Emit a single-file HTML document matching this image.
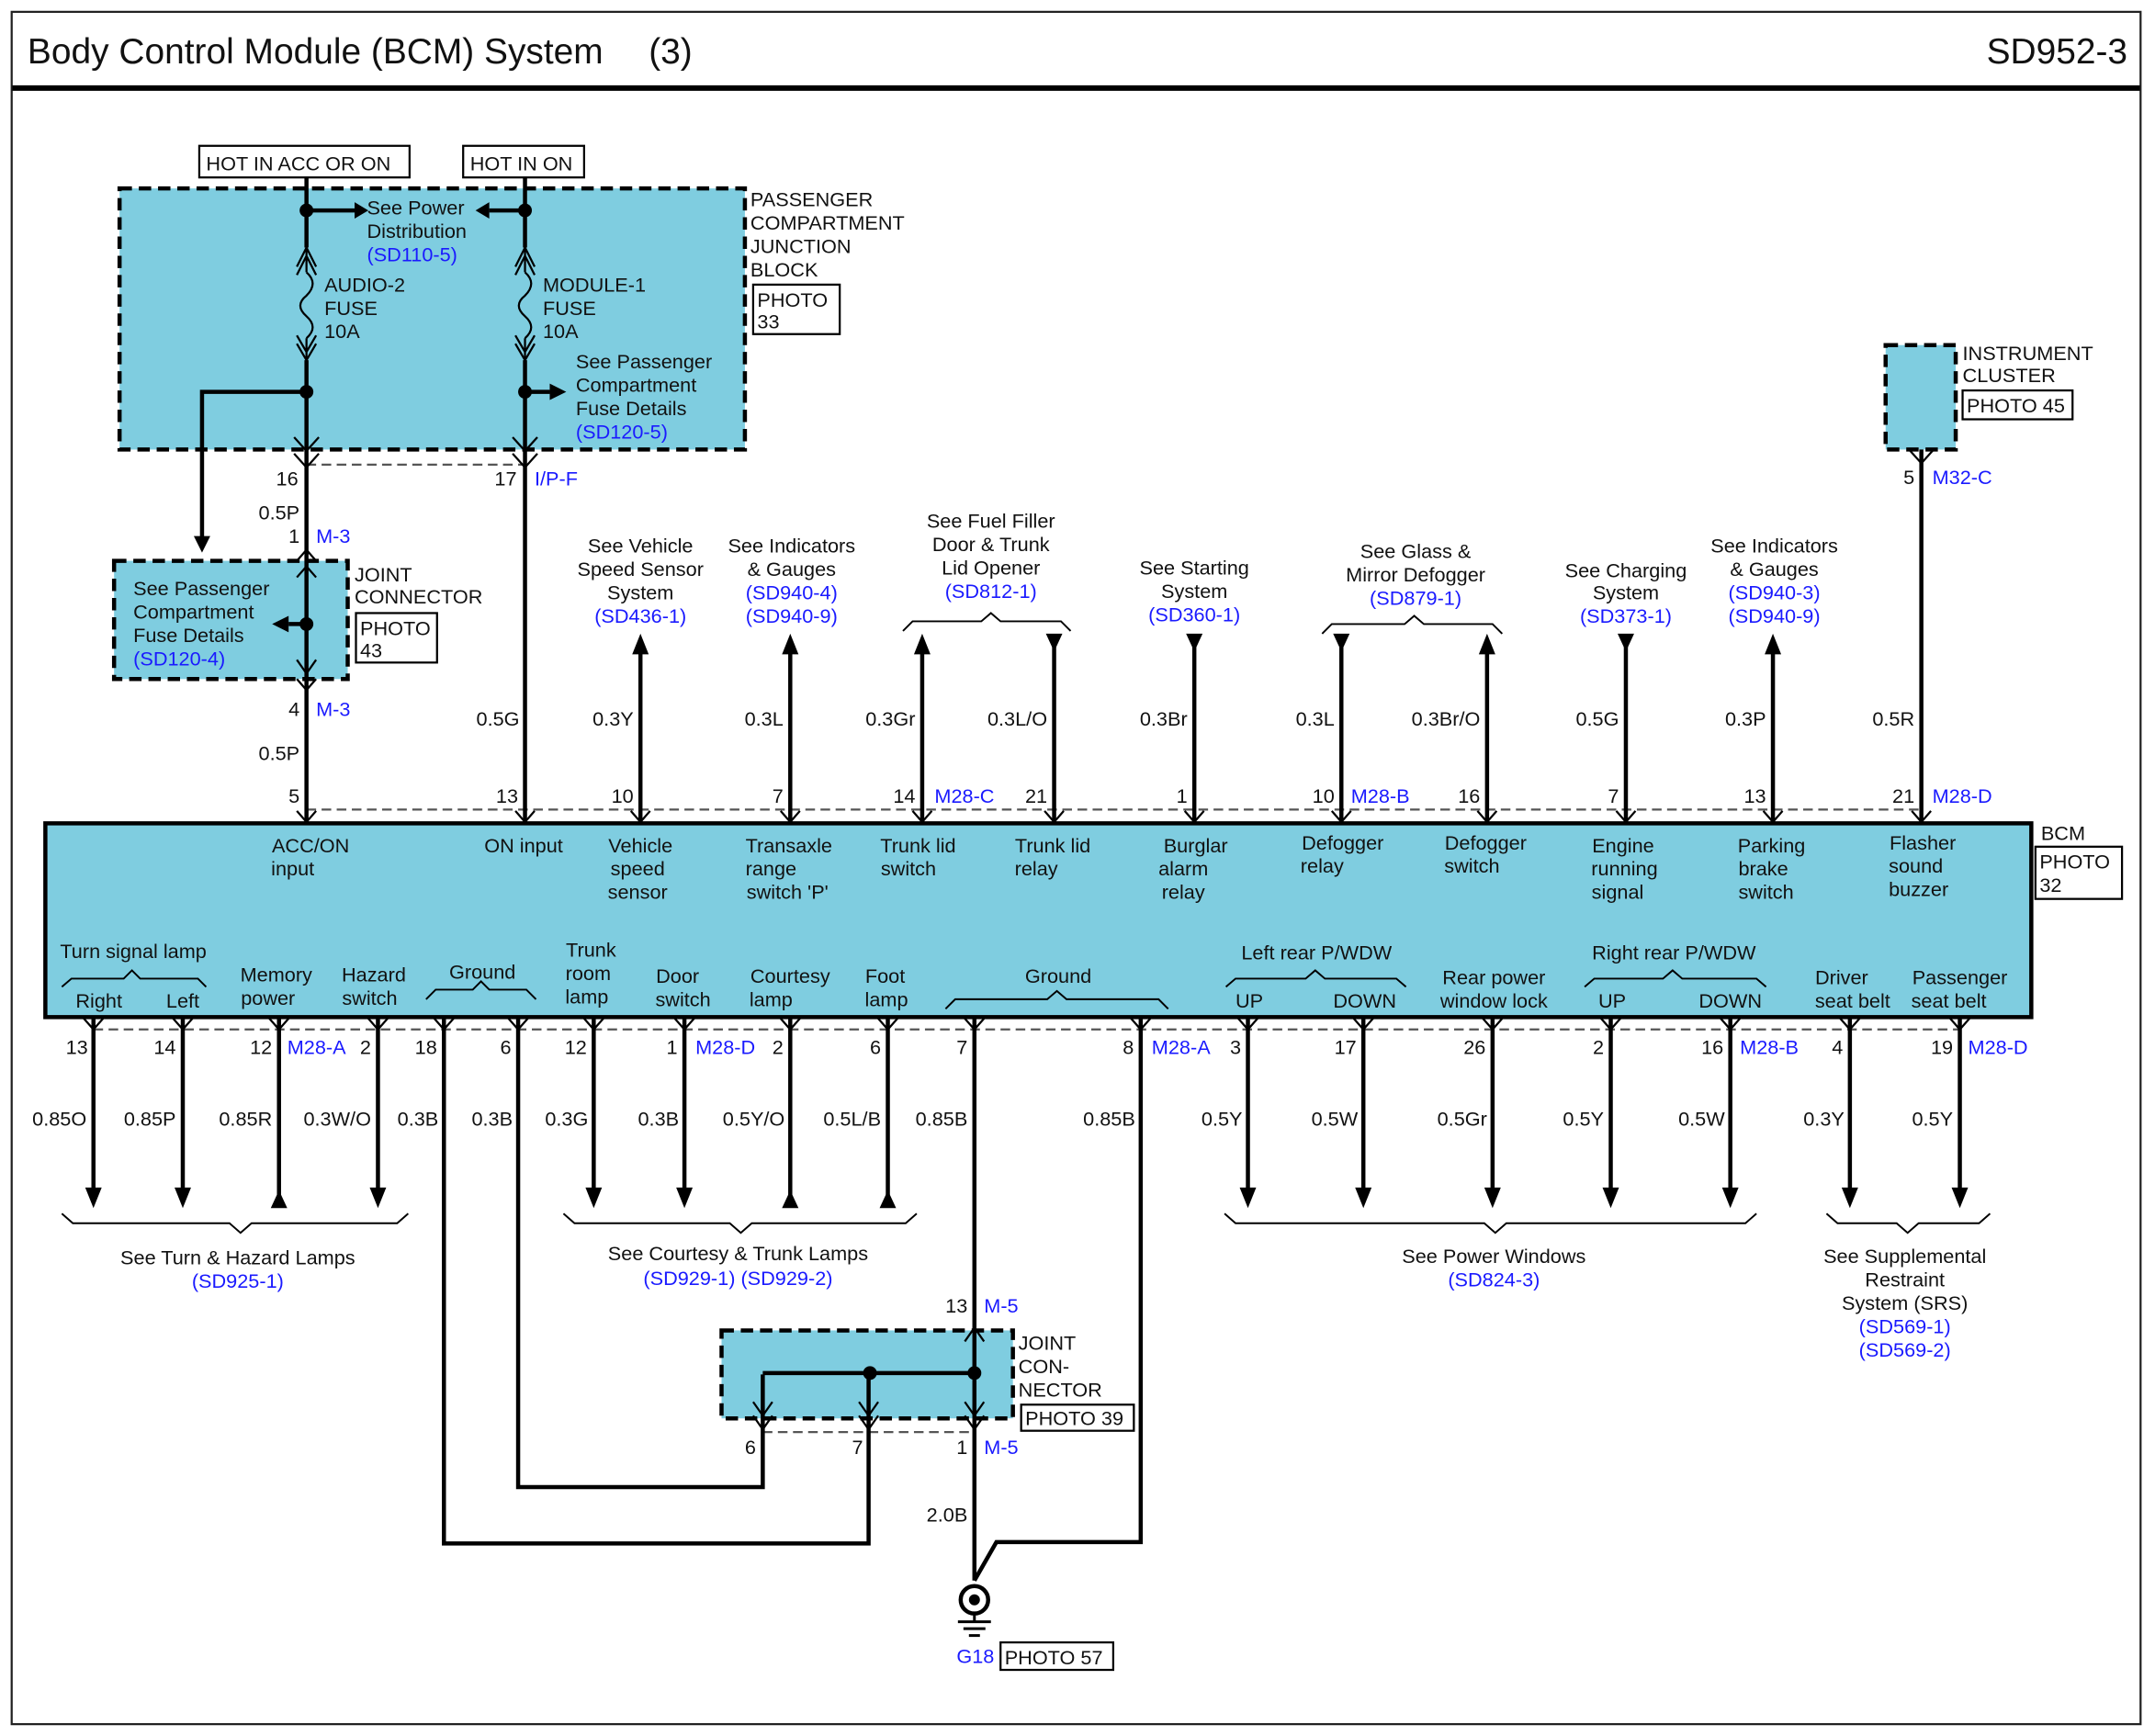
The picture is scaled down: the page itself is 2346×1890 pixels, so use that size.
<!DOCTYPE html>
<html><head><meta charset="utf-8"><style>
html,body{margin:0;padding:0;background:#fff}
svg{display:block}
text{font-family:"Liberation Sans",Arial,sans-serif;font-size:14.5px;fill:#111}
.b{fill:#1a1aff}
.c{text-anchor:middle}
.e{text-anchor:end}
</style></head><body>
<svg width="2346" height="1890" viewBox="0 0 1568 1263" xmlns="http://www.w3.org/2000/svg">
<rect x="0" y="0" width="1568" height="1263" fill="#fff"/>
<rect x="8.5" y="8.5" width="1549" height="1246" fill="none" stroke="#222" stroke-width="1.5"/>
<line x1="9" y1="64" x2="1557" y2="64" stroke="#000" stroke-width="4"/>
<text x="20" y="46" style="font-size:26px">Body Control Module (BCM) System</text>
<text x="472" y="46" style="font-size:26px">(3)</text>
<text x="1548" y="46" class="e" style="font-size:26px">SD952-3</text>

<!-- blue boxes -->
<g fill="#7fcde0" stroke="#000" stroke-width="3" stroke-dasharray="9,5">
<rect x="87" y="137" width="455" height="190"/>
<rect x="83" y="408" width="170" height="86"/>
<rect x="1372" y="251" width="51" height="76"/>
<rect x="525" y="968" width="212" height="64"/>
</g>
<rect x="33" y="599" width="1445" height="141" fill="#7fcde0" stroke="#000" stroke-width="3"/>

<!-- hot boxes -->
<g fill="#fff" stroke="#000" stroke-width="1.5">
<rect x="145" y="106" width="153" height="23"/>
<rect x="337" y="106" width="88" height="23"/>
<rect x="548" y="207" width="63" height="36"/>
<rect x="259" y="446" width="59" height="36"/>
<rect x="1428" y="284" width="80" height="21"/>
<rect x="1481" y="616" width="63" height="38"/>
<rect x="743" y="1022" width="82" height="19"/>
<rect x="728" y="1195" width="82" height="20"/>
</g>
<text x="150" y="124">HOT IN ACC OR ON</text>
<text x="342" y="124">HOT IN ON</text>
<text x="551" y="223">PHOTO</text><text x="551" y="239">33</text>
<text x="262" y="462">PHOTO</text><text x="262" y="478">43</text>
<text x="1431" y="300">PHOTO 45</text>
<text x="1484" y="632">PHOTO</text><text x="1484" y="649">32</text>
<text x="746" y="1037">PHOTO 39</text>
<text x="731" y="1211">PHOTO 57</text>

<!-- dashed connector lines -->
<g stroke="#555" stroke-width="1.5" stroke-dasharray="7,4" fill="none">
<line x1="223" y1="338" x2="382" y2="338"/>
<line x1="223" y1="589" x2="1398" y2="589"/>
<line x1="68" y1="749" x2="1426" y2="749"/>
<line x1="555" y1="1042" x2="709" y2="1042"/>
</g>

<!-- wires -->
<g stroke="#000" stroke-width="3" fill="none">
<line x1="223" y1="129" x2="223" y2="180"/>
<line x1="223" y1="262" x2="223" y2="599"/>
<line x1="382" y1="129" x2="382" y2="180"/>
<line x1="382" y1="262" x2="382" y2="599"/>
<polyline points="223,285 147,285 147,392"/>
<line x1="223" y1="153" x2="258" y2="153"/>
<line x1="382" y1="153" x2="356" y2="153"/>
<line x1="382" y1="285" x2="400" y2="285"/>
<line x1="223" y1="454" x2="210" y2="454"/>
<line x1="1398" y1="327" x2="1398" y2="599"/>
<line x1="466" y1="470" x2="466" y2="599"/>
<line x1="575" y1="470" x2="575" y2="599"/>
<line x1="671" y1="470" x2="671" y2="599"/>
<line x1="767" y1="470" x2="767" y2="599"/>
<line x1="869" y1="470" x2="869" y2="599"/>
<line x1="976" y1="470" x2="976" y2="599"/>
<line x1="1082" y1="470" x2="1082" y2="599"/>
<line x1="1183" y1="470" x2="1183" y2="599"/>
<line x1="1290" y1="470" x2="1290" y2="599"/>
<line x1="68" y1="740" x2="68" y2="866"/>
<line x1="133" y1="740" x2="133" y2="866"/>
<line x1="203" y1="740" x2="203" y2="872"/>
<line x1="275" y1="740" x2="275" y2="866"/>
<polyline points="323,740 323,1123 632,1123 632,1000"/>
<polyline points="377,740 377,1082 555,1082 555,1000"/>
<line x1="432" y1="740" x2="432" y2="866"/>
<line x1="498" y1="740" x2="498" y2="866"/>
<line x1="575" y1="740" x2="575" y2="872"/>
<line x1="646" y1="740" x2="646" y2="872"/>
<line x1="709" y1="740" x2="709" y2="1150"/>
<polyline points="830,740 830,1122 725,1122 709,1150"/>
<line x1="908" y1="740" x2="908" y2="866"/>
<line x1="992" y1="740" x2="992" y2="866"/>
<line x1="1086" y1="740" x2="1086" y2="866"/>
<line x1="1172" y1="740" x2="1172" y2="866"/>
<line x1="1259" y1="740" x2="1259" y2="866"/>
<line x1="1346" y1="740" x2="1346" y2="866"/>
<line x1="1426" y1="740" x2="1426" y2="866"/>
<line x1="555" y1="999" x2="709" y2="999"/>
</g>
<!-- fuses -->
<g stroke="#000" stroke-width="1.5" fill="none">
<path d="M223 180 L223 198 M216 194 L223 180 L230 194 M216 200 L223 186 L230 200 M223 198 Q232 206 223 215 Q214 222 223 230 Q232 238 223 246 M223 246 L223 262 M216 250 L223 262 L230 250 M216 244 L223 256 L230 244"/>
<path d="M382 180 L382 198 M375 194 L382 180 L389 194 M375 200 L382 186 L389 200 M382 198 Q391 206 382 215 Q373 222 382 230 Q391 238 382 246 M382 246 L382 262 M375 250 L382 262 L389 250 M375 244 L382 256 L389 244"/>
<!-- chevrons -->
<path d="M214 318 L223 328 L232 318 M214 330 L223 340 L232 330"/>
<path d="M373 318 L382 328 L391 318 M373 330 L382 340 L391 330"/>
<path d="M216 408 L223 400 L230 408 M216 420 L223 412 L230 420"/>
<path d="M216 480 L223 490 L230 480 M216 494 L223 502 L230 494"/>
<path d="M1389 327 L1398 337 L1407 327"/>
<path d="M548 1030 L555 1040 L562 1030 M548 1020 L555 1030 L562 1020"/>
<path d="M625 1030 L632 1040 L639 1030 M625 1020 L632 1030 L639 1020"/>
<path d="M702 1030 L709 1040 L716 1030 M702 1020 L709 1030 L716 1020"/>
<path d="M702 976 L709 966 L716 976"/>
</g>
<g stroke="#000" stroke-width="1.5" fill="none">
<path d="M216 590 L223 598 L230 590 M375 590 L382 598 L389 590 M459 590 L466 598 L473 590 M568 590 L575 598 L582 590 M664 590 L671 598 L678 590 M760 590 L767 598 L774 590 M862 590 L869 598 L876 590 M969 590 L976 598 L983 590 M1075 590 L1082 598 L1089 590 M1176 590 L1183 598 L1190 590 M1283 590 L1290 598 L1297 590 M1391 590 L1398 598 L1405 590"/>
<path d="M61 741 L68 749 L75 741 M126 741 L133 749 L140 741 M196 741 L203 749 L210 741 M268 741 L275 749 L282 741 M316 741 L323 749 L330 741 M370 741 L377 749 L384 741 M425 741 L432 749 L439 741 M491 741 L498 749 L505 741 M568 741 L575 749 L582 741 M639 741 L646 749 L653 741 M702 741 L709 749 L716 741 M823 741 L830 749 L837 741 M901 741 L908 749 L915 741 M985 741 L992 749 L999 741 M1079 741 L1086 749 L1093 741 M1165 741 L1172 749 L1179 741 M1252 741 L1259 749 L1266 741 M1339 741 L1346 749 L1353 741 M1419 741 L1426 749 L1433 741"/>
</g>
<!-- dots -->
<g fill="#000">
<circle cx="223" cy="153" r="5"/><circle cx="382" cy="153" r="5"/>
<circle cx="223" cy="285" r="5"/><circle cx="382" cy="285" r="5"/>
<circle cx="223" cy="454" r="5"/>
<circle cx="633" cy="999" r="5"/><circle cx="709" cy="999" r="5"/>
<!-- small arrowheads -->
<polygon points="258,147 268,153 258,159"/>
<polygon points="356,147 346,153 356,159"/>
<polygon points="400,279 412,285 400,291"/>
<polygon points="210,448 198,454 210,460"/>
<polygon points="141,390 153,390 147,402"/>
<!-- top arrows up -->
<polygon points="460,476 466,461 472,476"/>
<polygon points="569,476 575,461 581,476"/>
<polygon points="665,476 671,461 677,476"/>
<polygon points="1076,476 1082,461 1088,476"/>
<polygon points="1284,476 1290,461 1296,476"/>
<!-- top triangles down -->
<polygon points="761,461 773,461 767,474"/>
<polygon points="863,461 875,461 869,474"/>
<polygon points="970,461 982,461 976,474"/>
<polygon points="1177,461 1189,461 1183,474"/>
<!-- bottom arrows down -->
<polygon points="62,864 74,864 68,879"/>
<polygon points="127,864 139,864 133,879"/>
<polygon points="269,864 281,864 275,879"/>
<polygon points="426,864 438,864 432,879"/>
<polygon points="492,864 504,864 498,879"/>
<polygon points="902,864 914,864 908,879"/>
<polygon points="986,864 998,864 992,879"/>
<polygon points="1080,864 1092,864 1086,879"/>
<polygon points="1166,864 1178,864 1172,879"/>
<polygon points="1253,864 1265,864 1259,879"/>
<polygon points="1340,864 1352,864 1346,879"/>
<polygon points="1420,864 1432,864 1426,879"/>
<!-- bottom triangles up -->
<polygon points="197,879 209,879 203,866"/>
<polygon points="569,879 581,879 575,866"/>
<polygon points="640,879 652,879 646,866"/>
</g>
<!-- ground -->
<g stroke="#000" fill="none">
<circle cx="709" cy="1164" r="10" stroke-width="3"/>
<line x1="709" y1="1174" x2="709" y2="1180" stroke-width="2"/>
<line x1="697" y1="1180" x2="721" y2="1180" stroke-width="2"/>
<line x1="701" y1="1185" x2="717" y2="1185" stroke-width="2"/>
<line x1="705" y1="1190" x2="713" y2="1190" stroke-width="2"/>
</g>
<circle cx="709" cy="1164" r="4" fill="#000"/>

<!-- braces -->
<g stroke="#000" stroke-width="1.3" fill="none">
<path d="M657 459 L664 452 L714 452 L721 446 L728 452 L772 452 L779 459"/>
<path d="M962 461 L969 454 L1022 454 L1029 448 L1036 454 L1086 454 L1093 461"/>
<path d="M45 883 L53 890 L167 890 L175 897 L183 890 L289 890 L297 883"/>
<path d="M410 883 L418 890 L531 890 L539 897 L547 890 L659 890 L667 883"/>
<path d="M891 883 L899 890 L1080 890 L1088 897 L1096 890 L1270 890 L1278 883"/>
<path d="M1329 883 L1337 890 L1380 890 L1388 897 L1396 890 L1440 890 L1448 883"/>
<path d="M45 718 L52 712 L90 712 L96 706 L102 712 L144 712 L150 718"/>
<path d="M310 727 L317 720 L344 720 L350 714 L356 720 L383 720 L390 727"/>
<path d="M688 734 L695 727 L762 727 L769 721 L776 727 L843 727 L850 734"/>
<path d="M892 718 L899 712 L950 712 L957 706 L964 712 L1016 712 L1023 718"/>
<path d="M1153 718 L1160 712 L1210 712 L1217 706 L1224 712 L1278 712 L1285 718"/>
</g>

<!-- top block text -->
<text x="267" y="156">See Power</text>
<text x="267" y="173">Distribution</text>
<text x="267" y="190" class="b">(SD110-5)</text>
<text x="236" y="212">AUDIO-2</text><text x="236" y="229">FUSE</text><text x="236" y="246">10A</text>
<text x="395" y="212">MODULE-1</text><text x="395" y="229">FUSE</text><text x="395" y="246">10A</text>
<text x="419" y="268">See Passenger</text><text x="419" y="285">Compartment</text><text x="419" y="302">Fuse Details</text>
<text x="419" y="319" class="b">(SD120-5)</text>
<text x="546" y="150">PASSENGER</text><text x="546" y="167">COMPARTMENT</text><text x="546" y="184">JUNCTION</text><text x="546" y="201">BLOCK</text>
<text x="97" y="433">See Passenger</text><text x="97" y="450">Compartment</text><text x="97" y="467">Fuse Details</text>
<text x="97" y="484" class="b">(SD120-4)</text>
<text x="258" y="423">JOINT</text><text x="258" y="439">CONNECTOR</text>
<text x="1428" y="262">INSTRUMENT</text><text x="1428" y="278">CLUSTER</text>
<text x="217" y="353" class="e">16</text><text x="376" y="353" class="e">17</text><text x="389" y="353" class="b">I/P-F</text>
<text x="218" y="378" class="e">0.5P</text>
<text x="218" y="395" class="e">1</text><text x="230" y="395" class="b">M-3</text>
<text x="218" y="521" class="e">4</text><text x="230" y="521" class="b">M-3</text>
<text x="218" y="553" class="e">0.5P</text>
<text x="1393" y="352" class="e">5</text><text x="1406" y="352" class="b">M32-C</text>

<!-- top references -->
<text x="466" y="402" class="c">See Vehicle</text><text x="466" y="419" class="c">Speed Sensor</text><text x="466" y="436" class="c">System</text><text x="466" y="453" class="c b">(SD436-1)</text>
<text x="576" y="402" class="c">See Indicators</text><text x="576" y="419" class="c">&amp; Gauges</text><text x="576" y="436" class="c b">(SD940-4)</text><text x="576" y="453" class="c b">(SD940-9)</text>
<text x="721" y="384" class="c">See Fuel Filler</text><text x="721" y="401" class="c">Door &amp; Trunk</text><text x="721" y="418" class="c">Lid Opener</text><text x="721" y="435" class="c b">(SD812-1)</text>
<text x="869" y="418" class="c">See Starting</text><text x="869" y="435" class="c">System</text><text x="869" y="452" class="c b">(SD360-1)</text>
<text x="1030" y="406" class="c">See Glass &amp;</text><text x="1030" y="423" class="c">Mirror Defogger</text><text x="1030" y="440" class="c b">(SD879-1)</text>
<text x="1183" y="420" class="c">See Charging</text><text x="1183" y="436" class="c">System</text><text x="1183" y="453" class="c b">(SD373-1)</text>
<text x="1291" y="402" class="c">See Indicators</text><text x="1291" y="419" class="c">&amp; Gauges</text><text x="1291" y="436" class="c b">(SD940-3)</text><text x="1291" y="453" class="c b">(SD940-9)</text>

<!-- top wire labels -->
<text x="378" y="528" class="e">0.5G</text>
<text x="461" y="528" class="e">0.3Y</text>
<text x="570" y="528" class="e">0.3L</text>
<text x="666" y="528" class="e">0.3Gr</text>
<text x="762" y="528" class="e">0.3L/O</text>
<text x="864" y="528" class="e">0.3Br</text>
<text x="971" y="528" class="e">0.3L</text>
<text x="1077" y="528" class="e">0.3Br/O</text>
<text x="1178" y="528" class="e">0.5G</text>
<text x="1285" y="528" class="e">0.3P</text>
<text x="1393" y="528" class="e">0.5R</text>
<!-- top pins -->
<text x="218" y="584" class="e">5</text>
<text x="377" y="584" class="e">13</text>
<text x="461" y="584" class="e">10</text>
<text x="570" y="584" class="e">7</text>
<text x="666" y="584" class="e">14</text><text x="680" y="584" class="b">M28-C</text>
<text x="762" y="584" class="e">21</text>
<text x="864" y="584" class="e">1</text>
<text x="971" y="584" class="e">10</text><text x="983" y="584" class="b">M28-B</text>
<text x="1077" y="584" class="e">16</text>
<text x="1178" y="584" class="e">7</text>
<text x="1285" y="584" class="e">13</text>
<text x="1393" y="584" class="e">21</text><text x="1406" y="584" class="b">M28-D</text>
<text x="1485" y="611">BCM</text>

<!-- BCM inside top -->
<text x="226" y="620" class="c">ACC/ON</text><text x="213" y="637" class="c">input</text>
<text x="381" y="620" class="c">ON input</text>
<text x="466" y="620" class="c">Vehicle</text><text x="464" y="637" class="c">speed</text><text x="464" y="654" class="c">sensor</text>
<text x="574" y="620" class="c">Transaxle</text><text x="561" y="637" class="c">range</text><text x="573" y="654" class="c">switch 'P'</text>
<text x="668" y="620" class="c">Trunk lid</text><text x="661" y="637" class="c">switch</text>
<text x="766" y="620" class="c">Trunk lid</text><text x="754" y="637" class="c">relay</text>
<text x="870" y="620" class="c">Burglar</text><text x="861" y="637" class="c">alarm</text><text x="861" y="654" class="c">relay</text>
<text x="977" y="618" class="c">Defogger</text><text x="962" y="635" class="c">relay</text>
<text x="1081" y="618" class="c">Defogger</text><text x="1071" y="635" class="c">switch</text>
<text x="1181" y="620" class="c">Engine</text><text x="1182" y="637" class="c">running</text><text x="1177" y="654" class="c">signal</text>
<text x="1289" y="620" class="c">Parking</text><text x="1283" y="637" class="c">brake</text><text x="1285" y="654" class="c">switch</text>
<text x="1399" y="618" class="c">Flasher</text><text x="1394" y="635" class="c">sound</text><text x="1396" y="652" class="c">buzzer</text>
<!-- BCM inside bottom -->
<text x="97" y="697" class="c">Turn signal lamp</text>
<text x="72" y="733" class="c">Right</text><text x="133" y="733" class="c">Left</text>
<text x="201" y="714" class="c">Memory</text><text x="195" y="731" class="c">power</text>
<text x="272" y="714" class="c">Hazard</text><text x="269" y="731" class="c">switch</text>
<text x="351" y="712" class="c">Ground</text>
<text x="430" y="696" class="c">Trunk</text><text x="428" y="713" class="c">room</text><text x="427" y="730" class="c">lamp</text>
<text x="493" y="715" class="c">Door</text><text x="497" y="732" class="c">switch</text>
<text x="575" y="715" class="c">Courtesy</text><text x="561" y="732" class="c">lamp</text>
<text x="644" y="715" class="c">Foot</text><text x="645" y="732" class="c">lamp</text>
<text x="770" y="715" class="c">Ground</text>
<text x="958" y="698" class="c">Left rear P/WDW</text>
<text x="909" y="733" class="c">UP</text><text x="993" y="733" class="c">DOWN</text>
<text x="1087" y="716" class="c">Rear power</text><text x="1087" y="733" class="c">window lock</text>
<text x="1218" y="698" class="c">Right rear P/WDW</text>
<text x="1173" y="733" class="c">UP</text><text x="1259" y="733" class="c">DOWN</text>
<text x="1340" y="716" class="c">Driver</text><text x="1348" y="733" class="c">seat belt</text>
<text x="1426" y="716" class="c">Passenger</text><text x="1418" y="733" class="c">seat belt</text>

<!-- bottom pins -->
<text x="64" y="767" class="e">13</text>
<text x="128" y="767" class="e">14</text>
<text x="198" y="767" class="e">12</text><text x="209" y="767" class="b">M28-A</text>
<text x="270" y="767" class="e">2</text>
<text x="318" y="767" class="e">18</text>
<text x="372" y="767" class="e">6</text>
<text x="427" y="767" class="e">12</text>
<text x="493" y="767" class="e">1</text><text x="506" y="767" class="b">M28-D</text>
<text x="570" y="767" class="e">2</text>
<text x="641" y="767" class="e">6</text>
<text x="704" y="767" class="e">7</text>
<text x="825" y="767" class="e">8</text><text x="838" y="767" class="b">M28-A</text>
<text x="903" y="767" class="e">3</text>
<text x="987" y="767" class="e">17</text>
<text x="1081" y="767" class="e">26</text>
<text x="1167" y="767" class="e">2</text>
<text x="1254" y="767" class="e">16</text><text x="1266" y="767" class="b">M28-B</text>
<text x="1341" y="767" class="e">4</text>
<text x="1421" y="767" class="e">19</text><text x="1432" y="767" class="b">M28-D</text>
<!-- bottom wire labels -->
<text x="63" y="819" class="e">0.85O</text>
<text x="128" y="819" class="e">0.85P</text>
<text x="198" y="819" class="e">0.85R</text>
<text x="270" y="819" class="e">0.3W/O</text>
<text x="319" y="819" class="e">0.3B</text>
<text x="373" y="819" class="e">0.3B</text>
<text x="428" y="819" class="e">0.3G</text>
<text x="494" y="819" class="e">0.3B</text>
<text x="571" y="819" class="e">0.5Y/O</text>
<text x="641" y="819" class="e">0.5L/B</text>
<text x="704" y="819" class="e">0.85B</text>
<text x="826" y="819" class="e">0.85B</text>
<text x="904" y="819" class="e">0.5Y</text>
<text x="988" y="819" class="e">0.5W</text>
<text x="1082" y="819" class="e">0.5Gr</text>
<text x="1167" y="819" class="e">0.5Y</text>
<text x="1255" y="819" class="e">0.5W</text>
<text x="1342" y="819" class="e">0.3Y</text>
<text x="1421" y="819" class="e">0.5Y</text>
<!-- bottom refs -->
<text x="173" y="920" class="c">See Turn &amp; Hazard Lamps</text><text x="173" y="937" class="c b">(SD925-1)</text>
<text x="537" y="917" class="c">See Courtesy &amp; Trunk Lamps</text><text x="537" y="935" class="c b">(SD929-1) (SD929-2)</text>
<text x="1087" y="919" class="c">See Power Windows</text><text x="1087" y="936" class="c b">(SD824-3)</text>
<text x="1386" y="919" class="c">See Supplemental</text><text x="1386" y="936" class="c">Restraint</text><text x="1386" y="953" class="c">System (SRS)</text><text x="1386" y="970" class="c b">(SD569-1)</text><text x="1386" y="987" class="c b">(SD569-2)</text>
<!-- joint M-5 -->
<text x="704" y="955" class="e">13</text><text x="716" y="955" class="b">M-5</text>
<text x="741" y="982">JOINT</text><text x="741" y="999">CON-</text><text x="741" y="1016">NECTOR</text>
<text x="550" y="1058" class="e">6</text><text x="628" y="1058" class="e">7</text>
<text x="704" y="1058" class="e">1</text><text x="716" y="1058" class="b">M-5</text>
<text x="704" y="1107" class="e">2.0B</text>
<text x="696" y="1210" class="b">G18</text>
</svg>
</body></html>
